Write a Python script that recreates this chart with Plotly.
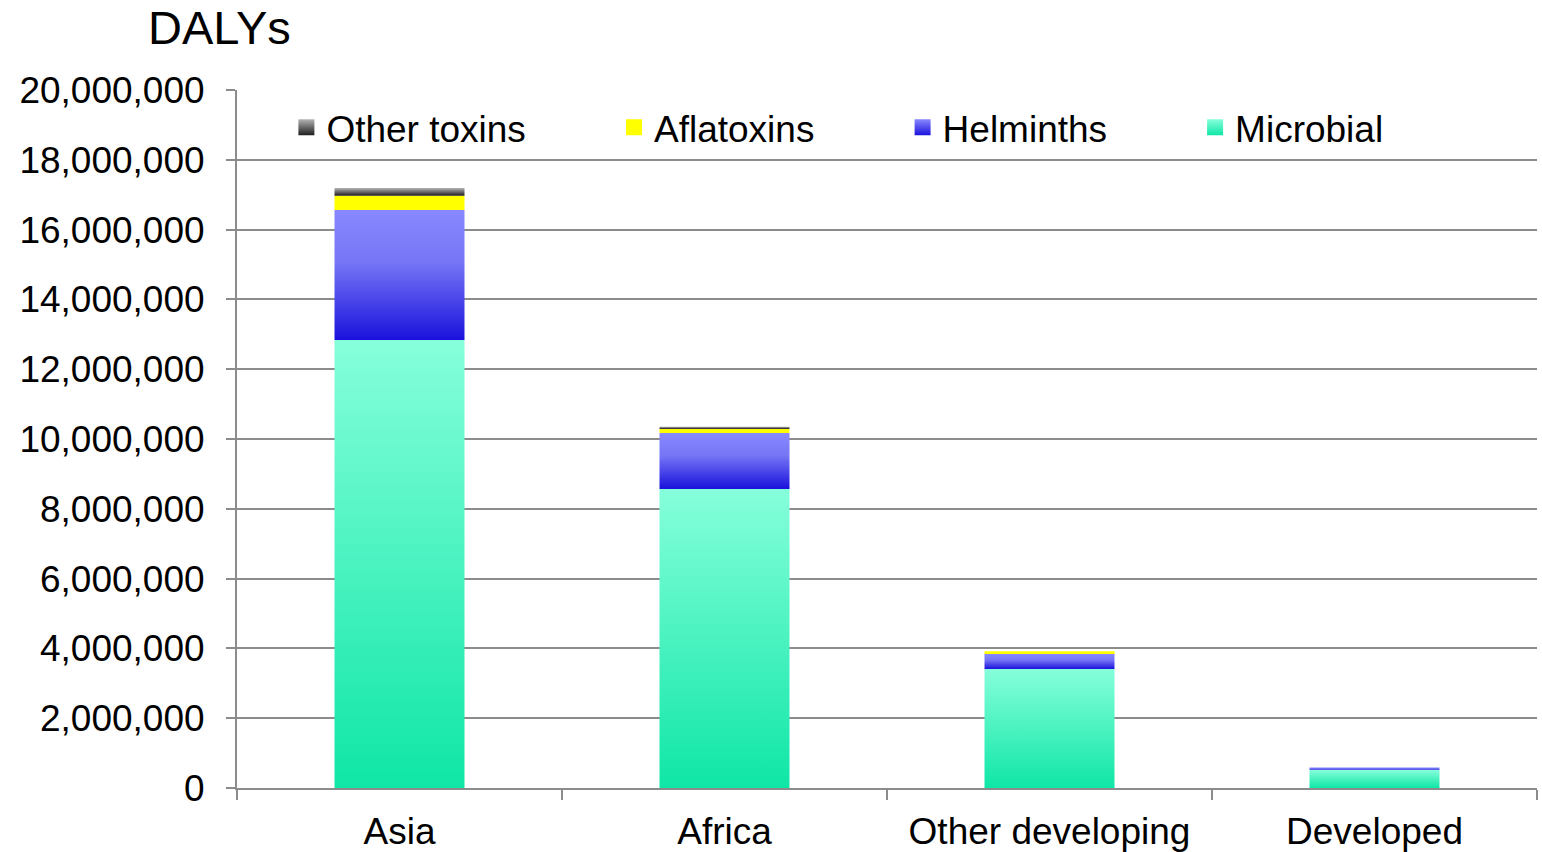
import plotly.graph_objects as go

# Regions and disease burden (DALYs) by hazard group, stacked bottom to top
regions = ["Asia", "Africa", "Other developing", "Developed"]
microbial = [12_840_000, 8_570_000, 3_410_000, 520_000]
helminths = [3_720_000, 1_600_000, 430_000, 70_000]
aflatoxins = [410_000, 120_000, 80_000, 8_000]
other_toxins = [220_000, 60_000, 15_000, 5_000]

series = [
    ("Microbial", microbial, [[0, "#0FE6A6"], [1, "#86FFDB"]], "#86FFDB", "#0FE6A6"),
    ("Helminths", helminths, [[0, "#1A12DC"], [0.6, "#7676F6"], [1, "#8888FF"]], "#8888FF", "#1A12DC"),
    ("Aflatoxins", aflatoxins, [[0, "#FFFF00"], [1, "#FFFF00"]], "#FFFF00", "#FFFF00"),
    ("Other toxins", other_toxins, [[0, "#1E1E1E"], [1, "#B4B4B4"]], "#B4B4B4", "#1E1E1E"),
]

FONT = "Liberation Sans, Arial, sans-serif"
FS = 37
half = 0.2  # half bar width in category units

fig = go.Figure()

# Stacked bar segments drawn as gradient-filled rectangles
base = [0] * len(regions)
for name, vals, cscale, _, _ in series:
    for i, v in enumerate(vals):
        b, t = base[i], base[i] + v
        fig.add_trace(go.Scatter(
            x=[i - half, i + half, i + half, i - half, i - half],
            y=[b, b, t, t, b],
            mode="lines", line=dict(width=0),
            fill="toself",
            fillgradient=dict(type="vertical", colorscale=cscale, start=b, stop=t),
            showlegend=False, hoverinfo="skip",
        ))
        base[i] = t

# Legend entries, one legend per item, left to right
legend_order = ["Other toxins", "Aflatoxins", "Helminths", "Microbial"]
legend_x = [0.038, 0.290, 0.512, 0.737]
lookup = {s[0]: s for s in series}
for k, name in enumerate(legend_order):
    _, _, _, top, bottom = lookup[name]
    lg = "legend" if k == 0 else f"legend{k + 1}"
    fig.add_trace(go.Scatter(
        x=[None], y=[None], mode="markers", name=name,
        marker=dict(symbol="square", size=16, color=top,
                    gradient=dict(type="vertical", color=bottom), line=dict(width=0)),
        legend=lg, showlegend=True,
    ))

legend_common = dict(
    orientation="h", yanchor="middle", y=0.946, xanchor="left",
    font=dict(family=FONT, size=FS, color="#000"),
    bgcolor="rgba(0,0,0,0)", itemwidth=30, tracegroupgap=0,
)
layout_legends = {}
for k, lx in enumerate(legend_x):
    key = "legend" if k == 0 else f"legend{k + 1}"
    layout_legends[key] = dict(legend_common, x=lx)

fig.update_layout(
    width=1542, height=852,
    margin=dict(l=237, r=5, t=90, b=64),
    paper_bgcolor="white", plot_bgcolor="white",
    font=dict(family=FONT, size=FS, color="#000"),
    **layout_legends,
    xaxis=dict(
        range=[-0.5, 3.5], tickvals=list(range(len(regions))), ticktext=regions,
        ticks="", showgrid=False, zeroline=False,
        showline=True, linecolor="#8c8c8c", linewidth=2,
        minor=dict(tickvals=[-0.5, 0.5, 1.5, 2.5, 3.5], ticks="outside",
                   ticklen=10, tickcolor="#8c8c8c", tickwidth=2, showgrid=False),
        ticklabelstandoff=10,
        tickfont=dict(family=FONT, size=FS, color="#000"),
        automargin=False,
        fixedrange=True,
    ),
    yaxis=dict(
        range=[0, 20_000_000], dtick=2_000_000, tickformat=",d",
        showgrid=True, gridcolor="#8c8c8c", gridwidth=2, zeroline=False,
        showline=True, linecolor="#8c8c8c", linewidth=2,
        ticks="outside", ticklen=9, tickcolor="#8c8c8c", tickwidth=2,
        ticklabelstandoff=14,
        tickfont=dict(family=FONT, size=FS, color="#000"),
        automargin=False,
        fixedrange=True,
    ),
    annotations=[dict(
        text="DALYs", xref="paper", yref="paper",
        x=(146 - 237) / 1300, y=(788 - 28) / 698, xanchor="left", yanchor="middle",
        showarrow=False, font=dict(family=FONT, size=47, color="#000"),
    )],
)

fig.write_html("out.html")
